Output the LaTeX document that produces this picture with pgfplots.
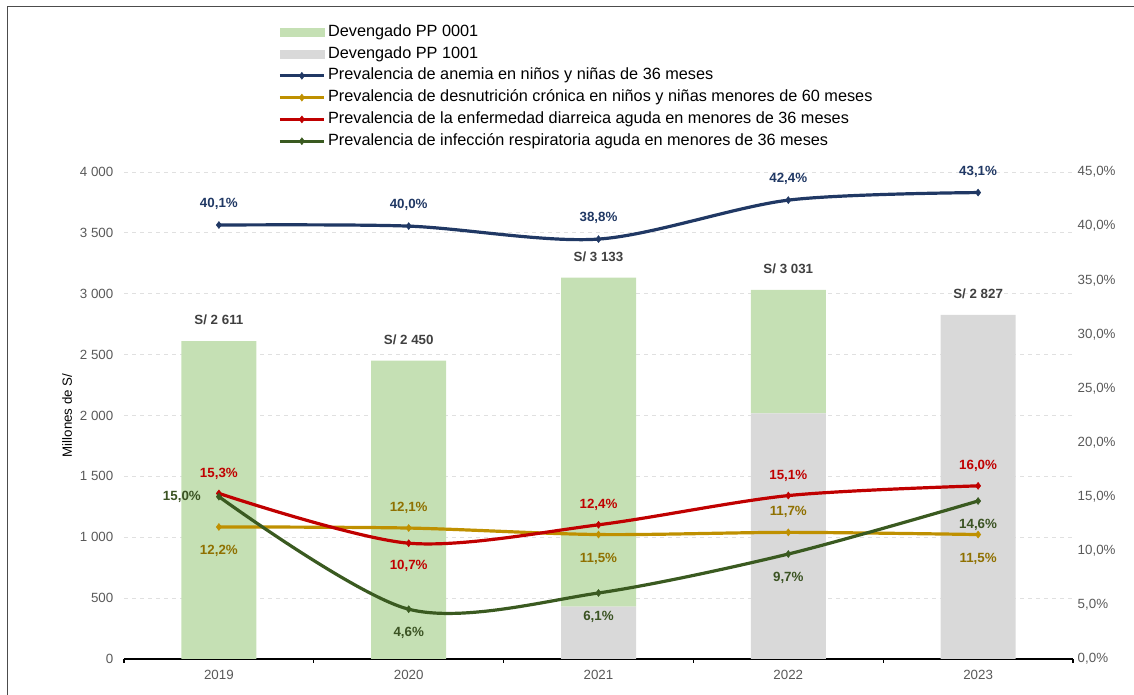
\documentclass[border=0pt]{standalone}
\usepackage{fontspec}
\setmainfont{Liberation Sans}
\usepackage{pgfplots}
\usepackage{pgfplotstable}
\pgfplotsset{compat=1.18}

\definecolor{barGreen}{HTML}{C5E0B4}
\definecolor{barGray}{HTML}{D9D9D9}
\definecolor{cNavy}{HTML}{203864}
\definecolor{cGold}{HTML}{BF9000}
\definecolor{cRed}{HTML}{C00000}
\definecolor{cDGreen}{HTML}{3A5A20}
\definecolor{tickGray}{HTML}{595959}
\definecolor{goldLabel}{HTML}{8F7000}
\definecolor{greenLabel}{HTML}{3B5323}
\definecolor{barLabel}{HTML}{404040}

\pgfplotstableread{
x  y
0  0
1  0
2  430
3  2018
4  2827
}\grayBars
\pgfplotstableread{
x  y
0  2611
1  2450
2  2703
3  1013
4  0
}\greenBars
\pgfplotstableread{
x  total
0  2611
1  2450
2  3133
3  3031
4  2827
}\totals
\pgfplotstableread{
x  y     dx   dy
0  40.1  0    15.75
1  40.0  0    15.75
2  38.8  0    15.75
3  42.4  0    15.75
4  43.1  0    15.75
}\anemia
\pgfplotstableread{
x  y     dx   dy
0  12.2  0    -18
1  12.1  0    15
2  11.5  0    -18
3  11.7  0    15
4  11.5  0    -18
}\cronica
\pgfplotstableread{
x  y     dx   dy
0  15.3  0    15
1  10.7  0    -17
2  12.4  0    15
3  15.1  0    15
4  16.0  0    15
}\eda
\pgfplotstableread{
x  y     dx      dy
0  15.0  -27.75  0
1  4.6   0       -18
2  6.1   0       -18
3  9.7   0       -18
4  14.6  0       -18
}\ira

\pgfplotsset{
  common/.style={
    at={(0,0)}, anchor=south west,
    scale only axis, width=711.75pt, height=365.25pt,
    xmin=-0.5, xmax=4.5,
    /pgf/number format/assume math mode=true,
    ticklabel style={color=tickGray, font=\fontsize{10}{12}\selectfont},
  },
  pctlabels/.style={
    nodes near coords={\pgfmathprintnumber[fixed,fixed zerofill,precision=1,use comma]{\pgfplotspointmeta}\%},
    point meta=explicit,
    visualization depends on={\thisrow{dx} \as \dx},
    visualization depends on={\thisrow{dy} \as \dy},
    every node near coord/.append style={anchor=center, xshift=\dx pt, yshift=\dy pt,
      font=\bfseries\fontsize{10}{12}\selectfont, text=#1, inner sep=0pt},
  },
  serie/.style={color=#1, line width=2.4pt, smooth, tension=0.5, mark=diamond*, mark size=2.6pt,
    mark options={solid, fill=#1, line width=0.4pt}},
}

\begin{document}
\begin{tikzpicture}
\useasboundingbox (-93pt,-27pt) rectangle (757.5pt,494.25pt);

\begin{axis}[
  common,
  ymin=0, ymax=4000,
  ybar stacked, bar width=56.25pt,
  axis x line*=bottom, axis y line*=left,
  y axis line style={draw=none},
  x axis line style={black, line width=0.8pt},
  xtick={0,1,2,3,4}, xticklabels={2019,2020,2021,2022,2023},
  minor xtick={-0.5,0.5,1.5,2.5,3.5,4.5},
  tick align=outside, major tick length=0pt, minor tick length=3pt,
  minor x tick style={black, line width=0.8pt},
  ytick={0,500,...,4000},
  ytick style={draw=none},
  yticklabel style={/pgf/number format/1000 sep={\ }, xshift=-4.5pt},
  xticklabel style={yshift=-5pt},
  ymajorgrids, grid style={dashed, color=black!12, line width=0.6pt},
  ylabel={Millones de S/},
  ylabel style={at={(axis description cs:-0.060,0.5)}, anchor=center, font=\fontsize{10}{12}\selectfont},
]
\addplot[fill=barGray, draw=none] table[x=x, y=y] {\grayBars};
\addplot[fill=barGreen, draw=none] table[x=x, y=y] {\greenBars};
\end{axis}

% totals above the bars (same scale as the bars)
\begin{axis}[
  common,
  ymin=0, ymax=4000,
  hide axis,
]
\addplot[draw=none, mark=none,
  nodes near coords={S/ \pgfmathprintnumber[1000 sep={\ }]{\pgfplotspointmeta}},
  point meta=explicit,
  every node near coord/.append style={anchor=center, yshift=15.75pt,
     font=\bfseries\fontsize{10}{12}\selectfont, text=barLabel, inner sep=0pt},
  ] table[x=x, y=total, meta=total] {\totals};
\end{axis}

\begin{axis}[
  common,
  ymin=0, ymax=45,
  axis y line*=right, axis x line=none,
  y axis line style={draw=none},
  ytick={0,5,...,45}, ytick style={draw=none},
  yticklabel={\pgfmathprintnumber[fixed,fixed zerofill,precision=1,use comma]{\tick}\%},
  legend cell align=left,
  legend style={at={(axis description cs:0.1623,1.304)}, anchor=north west,
    draw=none, fill=none, inner sep=0pt, row sep=4.35pt,
    nodes={inner sep=0.5pt, text height=8.5pt, text depth=2.5pt, font=\fontsize{12.2}{13}\selectfont},
    /tikz/every odd column/.style={column sep=1.5pt}},
  legend image code/.code={\draw[#1, mark repeat=2, mark phase=2, line width=2.4pt]
     plot coordinates {(0pt,0pt) (16.5pt,0pt) (33pt,0pt)};},
]
\addlegendimage{legend image code/.code={\fill[barGreen] (0pt,-3pt) rectangle (33pt,3pt);}}
\addlegendentry{Devengado PP 0001}
\addlegendimage{legend image code/.code={\fill[barGray] (0pt,-3pt) rectangle (33pt,3pt);}}
\addlegendentry{Devengado PP 1001}

\addplot[serie=cNavy, pctlabels=cNavy] table[x=x, y=y, meta=y] {\anemia};
\addlegendentry{Prevalencia de anemia en niños y niñas de 36 meses}
\addplot[serie=cGold, pctlabels=goldLabel] table[x=x, y=y, meta=y] {\cronica};
\addlegendentry{Prevalencia de desnutrición crónica en niños y niñas menores de 60 meses}
\addplot[serie=cRed, pctlabels=cRed] table[x=x, y=y, meta=y] {\eda};
\addlegendentry{Prevalencia de la enfermedad diarreica aguda en menores de 36 meses}
\addplot[serie=cDGreen, pctlabels=greenLabel] table[x=x, y=y, meta=y] {\ira};
\addlegendentry{Prevalencia de infección respiratoria aguda en menores de 36 meses}
\end{axis}

\draw[color=black!70, line width=1.2pt] (-87.4pt,-27pt) -- (-87.4pt,489.4pt) -- (757.5pt,489.4pt);
\end{tikzpicture}
\end{document}
